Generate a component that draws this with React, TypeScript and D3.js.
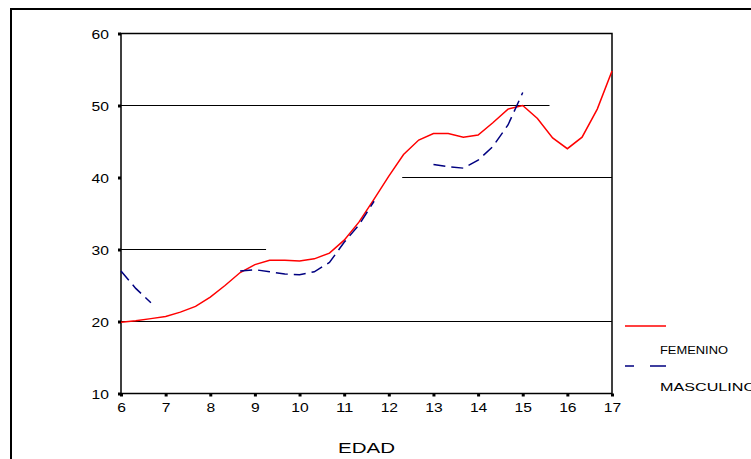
import React, { useEffect, useRef } from "react";
import * as d3 from "d3";

// age steps (every 4 months)
const ages = [
  6, 6.33, 6.67, 7, 7.33, 7.67, 8, 8.33, 8.67, 9, 9.33, 9.67, 10, 10.33, 10.67, 11, 11.33,
  11.67, 12, 12.33, 12.67, 13, 13.33, 13.67, 14, 14.33, 14.67, 15, 15.33, 15.67, 16, 16.33,
  16.67, 17,
];

const femenino = [
  19.9, 20.1, 20.4, 20.7, 21.3, 22.1, 23.4, 25.0, 26.8, 27.9, 28.5, 28.5, 28.4, 28.7, 29.5,
  31.3, 33.8, 37.0, 40.2, 43.2, 45.2, 46.1, 46.1, 45.6, 45.9, 47.6, 49.5, 50.0, 48.2, 45.5,
  44.0, 45.6, 49.5, 54.8,
];

const masculino: (number | null)[] = [
  27.0, 24.6, 22.6, null, null, null, null, null, 27.0, 27.2, 26.9, 26.6, 26.5, 26.9, 28.2,
  31.0, 33.4, 36.7, null, null, null, 41.8, 41.5, 41.3, 42.4, 44.3, 47.3, 51.8, null, null,
  null, null, null, null,
];

const yTicks = [10, 20, 30, 40, 50, 60];
const xTicks = [6, 7, 8, 9, 10, 11, 12, 13, 14, 15, 16, 17];

// horizontal reference lines (value, age where it starts, age where it ends)
const gridValues = [20, 30, 40, 50];
const gridFrom = [6, 6, 12.3, 6];
const gridTo = [17, 9.25, 17, 15.6];

const seriesNames = ["FEMENINO", "MASCULINO"];

const FONT = "'Liberation Sans', Arial, sans-serif";

export default function App() {
  const svgRef = useRef<SVGSVGElement>(null);

  useEffect(() => {
    const svg = d3.select(svgRef.current);
    svg.selectAll("*").remove();

    const x = d3.scaleLinear().domain([6, 17]).range([121, 612]);
    const y = d3.scaleLinear().domain([10, 60]).range([393.5, 33.5]);

    // outer frame
    svg
      .append("path")
      .attr("d", "M11,470 L11,9 L770,9")
      .attr("fill", "none")
      .attr("stroke", "#000")
      .attr("stroke-width", 2);

    // partial grid lines
    gridValues.forEach((v, i) => {
      svg
        .append("line")
        .attr("x1", x(gridFrom[i]))
        .attr("x2", x(gridTo[i]))
        .attr("y1", y(v))
        .attr("y2", y(v))
        .attr("stroke", "#000")
        .attr("stroke-width", 1);
    });

    // plot frame
    svg
      .append("rect")
      .attr("x", x(6))
      .attr("y", y(60))
      .attr("width", x(17) - x(6))
      .attr("height", y(10) - y(60))
      .attr("fill", "none")
      .attr("stroke", "#000")
      .attr("stroke-width", 1.5);

    const line = d3
      .line<number | null>()
      .defined((d) => d != null)
      .x((d, i) => x(ages[i]))
      .y((d) => y(d as number));

    svg
      .append("path")
      .datum(femenino)
      .attr("d", line)
      .attr("fill", "none")
      .attr("stroke", "#ff0000")
      .attr("stroke-width", 1.5);

    svg
      .append("path")
      .datum(masculino)
      .attr("d", line)
      .attr("fill", "none")
      .attr("stroke", "#000080")
      .attr("stroke-width", 1.5)
      .attr("stroke-dasharray", "12,6");

    // axes
    const yAxis = svg
      .append("g")
      .attr("transform", `translate(${x(6)},0)`)
      .call(d3.axisLeft(y).tickValues(yTicks).tickSize(3).tickPadding(9));
    const xAxis = svg
      .append("g")
      .attr("transform", `translate(0,${y(10)})`)
      .call(d3.axisBottom(x).tickValues(xTicks).tickSize(3).tickPadding(7));

    [yAxis, xAxis].forEach((g) => {
      g.select(".domain").remove();
      g.selectAll(".tick line").attr("stroke", "#000").attr("stroke-width", 3);
      g.selectAll<SVGTextElement, number>(".tick text")
        .attr("fill", "#000")
        .style("font-family", FONT)
        .style("font-size", "12px")
        .attr("textLength", (d) => String(d).length * 8.7)
        .attr("lengthAdjust", "spacingAndGlyphs");
    });
    yAxis.selectAll(".tick text").attr("dy", "0.45em");

    // axis title
    svg
      .append("text")
      .attr("x", (x(6) + x(17)) / 2)
      .attr("y", 453)
      .attr("text-anchor", "middle")
      .attr("textLength", 57)
      .attr("lengthAdjust", "spacingAndGlyphs")
      .style("font-family", FONT)
      .style("font-size", "15px")
      .text("EDAD");

    // legend
    const legend = svg.append("g");
    legend
      .append("line")
      .attr("x1", 625)
      .attr("x2", 666)
      .attr("y1", 326)
      .attr("y2", 326)
      .attr("stroke", "#ff0000")
      .attr("stroke-width", 1.5);
    legend
      .append("line")
      .attr("x1", 625)
      .attr("x2", 666)
      .attr("y1", 366)
      .attr("y2", 366)
      .attr("stroke", "#000080")
      .attr("stroke-width", 1.5)
      .attr("stroke-dasharray", "9,16,16,16");
    seriesNames.forEach((name, i) => {
      legend
        .append("text")
        .attr("x", 660)
        .attr("y", 354 + i * 37)
        .attr("textLength", i === 0 ? 68 : 96)
        .attr("lengthAdjust", "spacingAndGlyphs")
        .style("font-family", FONT)
        .style("font-size", "11px")
        .text(name);
    });
  }, []);

  return (
    <svg
      ref={svgRef}
      width={751}
      height={459}
      style={{ position: "absolute", left: 0, top: 0, background: "#fff" }}
    ></svg>
  );
}
